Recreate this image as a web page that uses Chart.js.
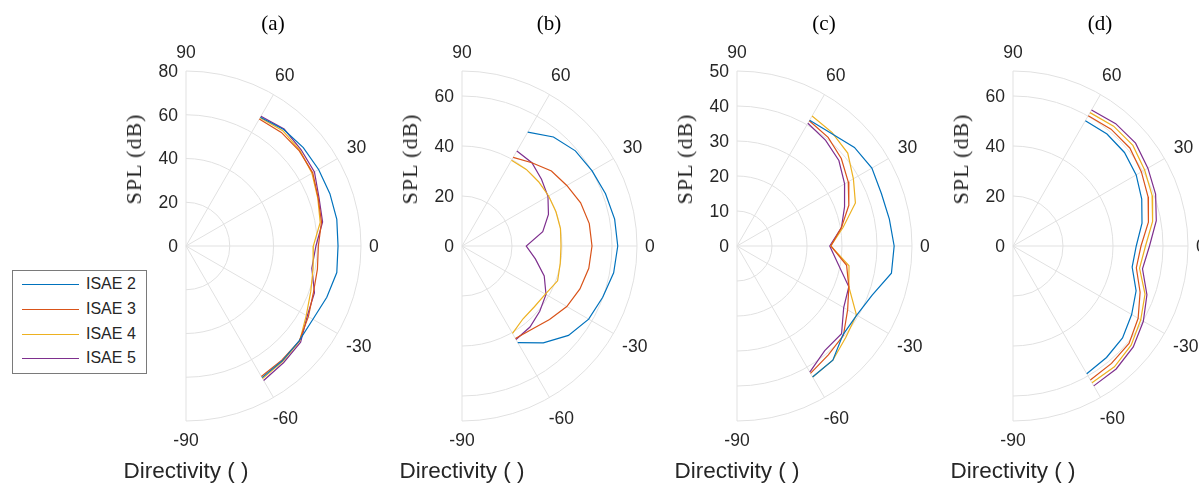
<!DOCTYPE html>
<html>
<head>
<meta charset="utf-8">
<title>Directivity</title>
<script src="https://cdn.jsdelivr.net/npm/chart.js@4.4.1/dist/chart.umd.min.js"></script>
<style>
  body { margin: 0; width: 1199px; height: 483px; overflow: hidden; background: #fff; position: relative;
         font-family: "Liberation Sans", Arial, sans-serif; color: #262626; }
  canvas { position: absolute; top: 0; }
  .title { position: absolute; font-family: "Liberation Serif", serif; font-size: 21px; color: #000;
           transform: translate(-50%, -50%); white-space: nowrap; line-height: 1; }
  .ylab { position: absolute; font-family: "Liberation Serif", serif; font-size: 22px; letter-spacing: 1px;
          transform: translate(-50%, -50%) rotate(-90deg); white-space: nowrap; line-height: 1; }
  .xlab { position: absolute; font-size: 22.5px; transform: translate(-50%, -50%); white-space: nowrap; line-height: 1; }
  #legend { position: absolute; left: 12px; top: 270px; width: 133px; height: 102px; border: 1px solid #7a7a7a;
            background: #fff; }
  .item { position: absolute; left: 0; height: 20px; font-size: 16px; line-height: 20px; }
  .item span.ln { position: absolute; left: 9px; top: 10px; width: 57px; height: 0; border-top: 1.2px solid; }
  .item span.tx { position: absolute; left: 73px; top: 0; white-space: nowrap; }
</style>
</head>
<body>
<script>
// Polar directivity, four cases

const ANGLES = [60, 50, 40, 30, 20, 10, 0, -10, -20, -30, -40, -50, -60];
const ANGLE_TICKS = [90, 60, 30, 0, -30, -60, -90];
const SERIES = ['ISAE 2', 'ISAE 3', 'ISAE 4', 'ISAE 5'];
const COLORS = ['#0072BD', '#D95319', '#EDB120', '#7E2F8E'];
const TITLES = ['(a)', '(b)', '(c)', '(d)'];

// (a)
const A_RTICKS = [0, 20, 40, 60, 80];
const A_ISAE2 = [68, 69.5, 70, 70, 70, 70, 69.5, 70, 68.5, 67, 67.5, 68.5, 69.5];
const A_ISAE3 = [67, 67.8, 67.6, 66.9, 64.3, 62.9, 60.5, 61, 62, 64.6, 67.6, 68.1, 68.9];
const A_ISAE4 = [67.7, 68.8, 68, 66.5, 64.1, 62.3, 58.2, 59, 60.7, 63.5, 67.8, 68.8, 70];
const A_ISAE5 = [68.5, 69.8, 68.6, 67.8, 64.7, 63.4, 59.4, 58.4, 62.5, 64, 68.4, 69.5, 71];

// (b)
const B_RTICKS = [0, 20, 40, 60];
const B_ISAE2 = [52.6, 56.9, 59.2, 60.1, 61.1, 62, 62.3, 61.6, 59.9, 58.5, 55.6, 50.6, 44.6];
const B_ISAE3 = [40.9, 43.5, 46.7, 48.4, 50.5, 51.7, 52, 51.5, 50.2, 48.4, 45.7, 43.5, 42.7];
const B_ISAE4 = [39.6, 40, 40, 40, 40, 40, 39.6, 39.9, 40.7, 38.5, 37.8, 38, 40.4];
const B_ISAE5 = [43.9, 43.5, 41.5, 39.7, 36.8, 32.8, 25.7, 29.8, 35, 38.8, 40.6, 42.3, 43.2];

// (c)
const C_RTICKS = [0, 10, 20, 30, 40, 50];
const C_ISAE2 = [41.5, 42, 43.8, 44.5, 43.9, 44.2, 44.9, 44.8, 41.1, 39.5, 39.5, 42.6, 43.2];
const C_ISAE3 = [41.3, 40.5, 38.9, 36.7, 34, 30.3, 26.8, 31.8, 34, 36.5, 39.7, 40.6, 42];
const C_ISAE4 = [42.9, 42.3, 41.3, 38.4, 36, 30.8, 26.8, 32.5, 34, 39.4, 40.6, 42.6, 43.2];
const C_ISAE5 = [40.5, 39.4, 38, 35.5, 32.7, 30.3, 26.5, 29.3, 34, 35.2, 39, 39, 41.6];

// (d)
const D_RTICKS = [0, 20, 40, 60];
const D_ISAE2 = [57.9, 58.5, 58.2, 56.9, 54.8, 52.4, 49.3, 48.4, 52.4, 54.8, 57.2, 58.2, 59];
const D_ISAE3 = [60.2, 61, 61, 59.3, 57.5, 55, 51.2, 50.1, 54.1, 57.8, 60.6, 61.3, 61.9];
const D_ISAE4 = [61.6, 62.6, 62.6, 60.8, 59.2, 56.7, 53, 51.4, 56.2, 59, 61.7, 63.1, 63.2];
const D_ISAE5 = [62.8, 63.9, 64, 62.3, 60.7, 58.2, 54.6, 52.6, 57, 60.2, 62.8, 64.2, 64.6];

const RMAX = [80, 70, 50, 70];

const PANELS = [
    { rticks: A_RTICKS, series: [A_ISAE2, A_ISAE3, A_ISAE4, A_ISAE5] },
    { rticks: B_RTICKS, series: [B_ISAE2, B_ISAE3, B_ISAE4, B_ISAE5] },
    { rticks: C_RTICKS, series: [C_ISAE2, C_ISAE3, C_ISAE4, C_ISAE5] },
    { rticks: D_RTICKS, series: [D_ISAE2, D_ISAE3, D_ISAE4, D_ISAE5] }
];

// layout
const CENTER_X = [186, 462, 737, 1013];
const PAD = { left: 80, right: 45, top: 71, bottom: 62 };
const rad = a => a * Math.PI / 180;

// Half-disc polar grid + tick labels, drawn from the x/y scales
const polarGrid = {
    id: 'polarGrid',
    beforeDatasetsDraw(chart, args, opts) {
        const { ctx, scales: { x, y } } = chart;
        const cx = x.getPixelForValue(0), cy = y.getPixelForValue(0);
        const rmax = opts.rmax;
        const R = x.getPixelForValue(rmax) - cx;
        ctx.save();
        ctx.strokeStyle = '#e1e1e1';
        ctx.lineWidth = 1;
        const rings = opts.rticks.filter(t => t > 0);
        if (rings[rings.length - 1] !== rmax) rings.push(rmax);
        rings.forEach(r => {
            ctx.beginPath();
            ctx.arc(cx, cy, x.getPixelForValue(r) - cx, -Math.PI / 2, Math.PI / 2);
            ctx.stroke();
        });
        ANGLE_TICKS.forEach(a => {
            ctx.beginPath();
            ctx.moveTo(cx, cy);
            ctx.lineTo(x.getPixelForValue(rmax * Math.cos(rad(a))), y.getPixelForValue(rmax * Math.sin(rad(a))));
            ctx.stroke();
        });

        ctx.fillStyle = '#262626';
        ctx.font = '17.5px "Liberation Sans", Arial, sans-serif';
        ctx.textBaseline = 'middle';
        ctx.textAlign = 'right';
        opts.rticks.forEach(r => ctx.fillText(String(r), cx - 8, y.getPixelForValue(r) + 1));

        ctx.textAlign = 'center';
        ANGLE_TICKS.forEach(a => {
            const t = rad(a), label = String(a);
            const w = ctx.measureText(label).width;
            const off = R + 8 + Math.abs(Math.cos(t)) * w / 2 + Math.abs(Math.sin(t)) * 11;
            ctx.fillText(label, cx + off * Math.cos(t), cy - off * Math.sin(t) + 1);
        });
        ctx.restore();
    }
};

function addText(cls, text, left, top) {
    const d = document.createElement('div');
    d.className = cls;
    d.textContent = text;
    d.style.left = left + 'px';
    d.style.top = top + 'px';
    document.body.appendChild(d);
}

PANELS.forEach((p, i) => {
    const cx = CENTER_X[i];
    const rmax = RMAX[i];
    const canvas = document.createElement('canvas');
    canvas.width = PAD.left + 175 + PAD.right;
    canvas.height = 483;
    canvas.style.left = (cx - PAD.left) + 'px';
    document.body.appendChild(canvas);

    new Chart(canvas, {
        type: 'scatter',
        data: {
            datasets: p.series.map((vals, k) => ({
                label: SERIES[k],
                data: ANGLES.map((a, j) => ({ x: vals[j] * Math.cos(rad(a)), y: vals[j] * Math.sin(rad(a)) })),
                showLine: true,
                borderColor: COLORS[k],
                backgroundColor: COLORS[k],
                borderWidth: 1.2,
                pointRadius: 0,
                fill: false,
                tension: 0
            }))
        },
        options: {
            responsive: false,
            animation: false,
            layout: { padding: PAD },
            scales: {
                x: { type: 'linear', min: 0, max: rmax, display: false },
                y: { type: 'linear', min: -rmax, max: rmax, display: false }
            },
            plugins: {
                legend: { display: false },
                tooltip: { enabled: false },
                polarGrid: { rmax: rmax, rticks: p.rticks }
            }
        },
        plugins: [polarGrid]
    });

    addText('title', TITLES[i], cx + 87, 23);
    addText('ylab', 'SPL (dB)', cx - 52, 159);
    addText('xlab', 'Directivity ( )', cx, 471);
});

// Legend
const legend = document.createElement('div');
legend.id = 'legend';
SERIES.forEach((name, k) => {
    const item = document.createElement('div');
    item.className = 'item';
    item.style.top = (3 + k * 24.8) + 'px';
    item.style.width = '133px';
    item.innerHTML = '<span class="ln" style="border-color:' + COLORS[k] + '"></span><span class="tx">' + name + '</span>';
    legend.appendChild(item);
});
document.body.appendChild(legend);
</script>
</body>
</html>
